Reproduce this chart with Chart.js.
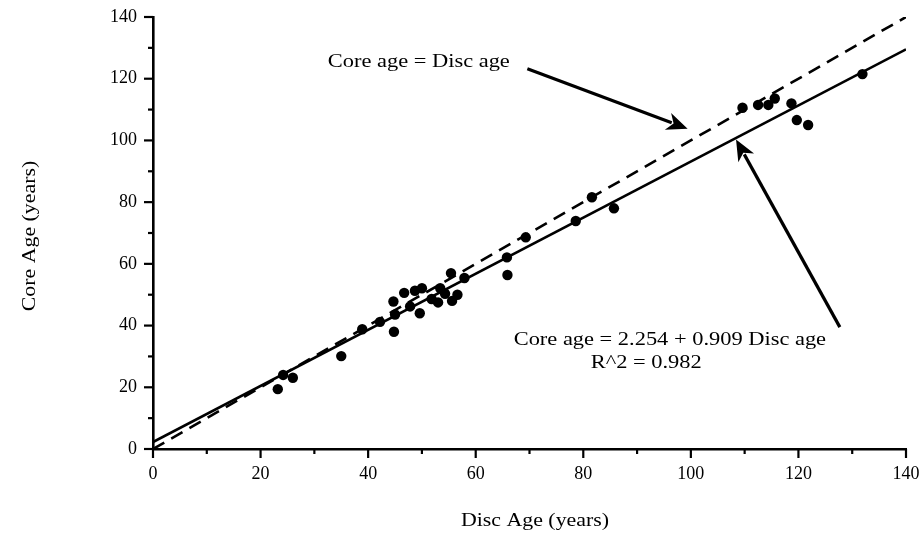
<!DOCTYPE html>
<html>
<head>
<meta charset="utf-8">
<script src="https://cdn.jsdelivr.net/npm/chart.js@4/dist/chart.umd.min.js"></script>
<style>
  html, body { margin: 0; padding: 0; background: #fff; }
  #wrap { width: 922px; height: 535px; position: relative; }
</style>
</head>
<body>
<div id="wrap"><canvas id="c" width="922" height="535"></canvas></div>
<script>
// Paired ages of each sampled fish: disc reading vs core reading (years)
const discAge = [23.2, 24.2, 26.0, 35.0, 38.9, 42.2, 44.8, 44.7, 45.0, 46.7,
                 48.7, 49.6, 47.8, 51.8, 53.4, 53.0, 54.3, 55.4, 56.6, 55.6,
                 57.9, 50.0, 65.8, 65.9, 69.3, 78.6, 81.6, 85.7, 109.6, 112.5,
                 114.4, 115.6, 118.7, 119.7, 121.8, 131.9];
const coreAge = [19.4, 24.0, 23.1, 30.1, 38.8, 41.2, 38.0, 47.8, 43.6, 50.6,
                 51.3, 44.0, 46.2, 48.6, 52.1, 47.5, 50.3, 57.0, 50.0, 48.0,
                 55.4, 52.1, 62.1, 56.4, 68.6, 73.9, 81.6, 78.0, 110.6, 111.5,
                 111.5, 113.6, 112.0, 106.6, 105.0, 121.5];

// Fitted regression and 1:1 reference
const fitIntercept = 2.254;
const fitSlope = 0.909;
const fitR2 = 0.982;
const lineRange = [0, 140];

const axisTicks = [0, 20, 40, 60, 80, 100, 120, 140];
const minorTicks = [10, 30, 50, 70, 90, 110, 130];

const FONT = '"Liberation Serif", "DejaVu Serif", serif';
const STRETCH = 1.15;

const points = discAge.map((d, i) => ({ x: d, y: coreAge[i] }));
const oneToOne = lineRange.map(v => ({ x: v, y: v }));
const fitLine = lineRange.map(v => ({ x: v, y: fitIntercept + fitSlope * v }));

function arrow(ctx, x1, y1, x2, y2) {
  const ang = Math.atan2(y2 - y1, x2 - x1);
  const hl = 21, hw = 9;
  const bx = x2 - hl * Math.cos(ang), by = y2 - hl * Math.sin(ang);
  ctx.beginPath();
  ctx.moveTo(x1, y1);
  ctx.lineTo(bx + 4 * Math.cos(ang), by + 4 * Math.sin(ang));
  ctx.stroke();
  ctx.beginPath();
  ctx.moveTo(x2, y2);
  ctx.lineTo(bx + hw * Math.sin(ang), by - hw * Math.cos(ang));
  ctx.lineTo(bx + 6 * Math.cos(ang), by + 6 * Math.sin(ang));
  ctx.lineTo(bx - hw * Math.sin(ang), by + hw * Math.cos(ang));
  ctx.closePath();
  ctx.fill();
}

// draws text slightly widened around an anchor point
function wideText(ctx, str, x, y, align) {
  ctx.save();
  ctx.translate(x, y);
  ctx.scale(STRETCH, 1);
  ctx.textAlign = align;
  ctx.fillText(str, 0, 0);
  ctx.restore();
}

const decorations = {
  id: 'decorations',
  afterDraw(chart) {
    const ctx = chart.ctx;
    const xs = chart.scales.x, ys = chart.scales.y;
    const area = chart.chartArea;
    ctx.save();
    ctx.strokeStyle = '#000';
    ctx.fillStyle = '#000';
    ctx.lineCap = 'butt';

    // tick marks: long at labelled values, short in between
    ctx.lineWidth = 2.2;
    axisTicks.forEach(v => {
      const px = xs.getPixelForValue(v);
      ctx.beginPath(); ctx.moveTo(px, area.bottom); ctx.lineTo(px, area.bottom + 9); ctx.stroke();
      const py = ys.getPixelForValue(v);
      ctx.beginPath(); ctx.moveTo(area.left, py); ctx.lineTo(area.left - 9, py); ctx.stroke();
    });
    minorTicks.forEach(v => {
      const px = xs.getPixelForValue(v);
      ctx.beginPath(); ctx.moveTo(px, area.bottom); ctx.lineTo(px, area.bottom + 5); ctx.stroke();
      const py = ys.getPixelForValue(v);
      ctx.beginPath(); ctx.moveTo(area.left, py); ctx.lineTo(area.left - 5, py); ctx.stroke();
    });

    // axis titles
    ctx.font = '19px ' + FONT;
    ctx.textBaseline = 'middle';
    wideText(ctx, 'Disc Age (years)', 535, 521, 'center');
    ctx.save();
    ctx.translate(30, 236);
    ctx.rotate(-Math.PI / 2);
    wideText(ctx, 'Core Age (years)', 0, 0, 'center');
    ctx.restore();

    // annotations
    ctx.font = '19.5px ' + FONT;
    wideText(ctx, 'Core age = Disc age', xs.getPixelForValue(32.5), ys.getPixelForValue(125.3), 'left');
    wideText(ctx, 'Core age = ' + fitIntercept.toFixed(3) + ' + ' + fitSlope.toFixed(3) + ' Disc age',
             xs.getPixelForValue(96.1), ys.getPixelForValue(35.3), 'center');
    wideText(ctx, 'R^2 = ' + fitR2.toFixed(3), xs.getPixelForValue(91.7), ys.getPixelForValue(27.8), 'center');

    ctx.lineWidth = 3.2;
    arrow(ctx, xs.getPixelForValue(69.6), ys.getPixelForValue(123.2),
               xs.getPixelForValue(99.4), ys.getPixelForValue(103.8));
    arrow(ctx, xs.getPixelForValue(127.7), ys.getPixelForValue(39.5),
               xs.getPixelForValue(108.4), ys.getPixelForValue(100.3));
    ctx.restore();
  }
};

new Chart(document.getElementById('c'), {
  type: 'scatter',
  data: {
    datasets: [
      {
        type: 'line', data: oneToOne, borderColor: '#000', borderWidth: 2.6,
        borderDash: [13, 8], pointRadius: 0, fill: false, order: 2
      },
      {
        type: 'line', data: fitLine, borderColor: '#000', borderWidth: 2.6,
        pointRadius: 0, fill: false, order: 2
      },
      {
        data: points, backgroundColor: '#000', borderColor: '#000',
        pointRadius: 5.2, pointBorderWidth: 0, order: 1
      }
    ]
  },
  options: {
    responsive: false,
    animation: false,
    events: [],
    layout: { padding: { top: 17, right: 16, left: 0, bottom: 0 } },
    plugins: { legend: { display: false }, tooltip: { enabled: false } },
    scales: {
      x: {
        type: 'linear', min: 0, max: 140,
        afterFit(s) { s.height = 86; s.paddingLeft = 0; s.paddingRight = 0; },
        grid: { display: false, drawTicks: false },
        border: { display: true, color: '#000', width: 2.6 },
        ticks: {
          stepSize: 20, padding: 14, color: '#000',
          font: { family: FONT, size: 18 }
        }
      },
      y: {
        type: 'linear', min: 0, max: 140,
        afterFit(s) { s.width = 153; s.paddingTop = 0; s.paddingBottom = 0; },
        grid: { display: false, drawTicks: false },
        border: { display: true, color: '#000', width: 2.6 },
        ticks: {
          stepSize: 20, padding: 16, color: '#000',
          font: { family: FONT, size: 18 }
        }
      }
    }
  },
  plugins: [decorations]
});
</script>
</body>
</html>
